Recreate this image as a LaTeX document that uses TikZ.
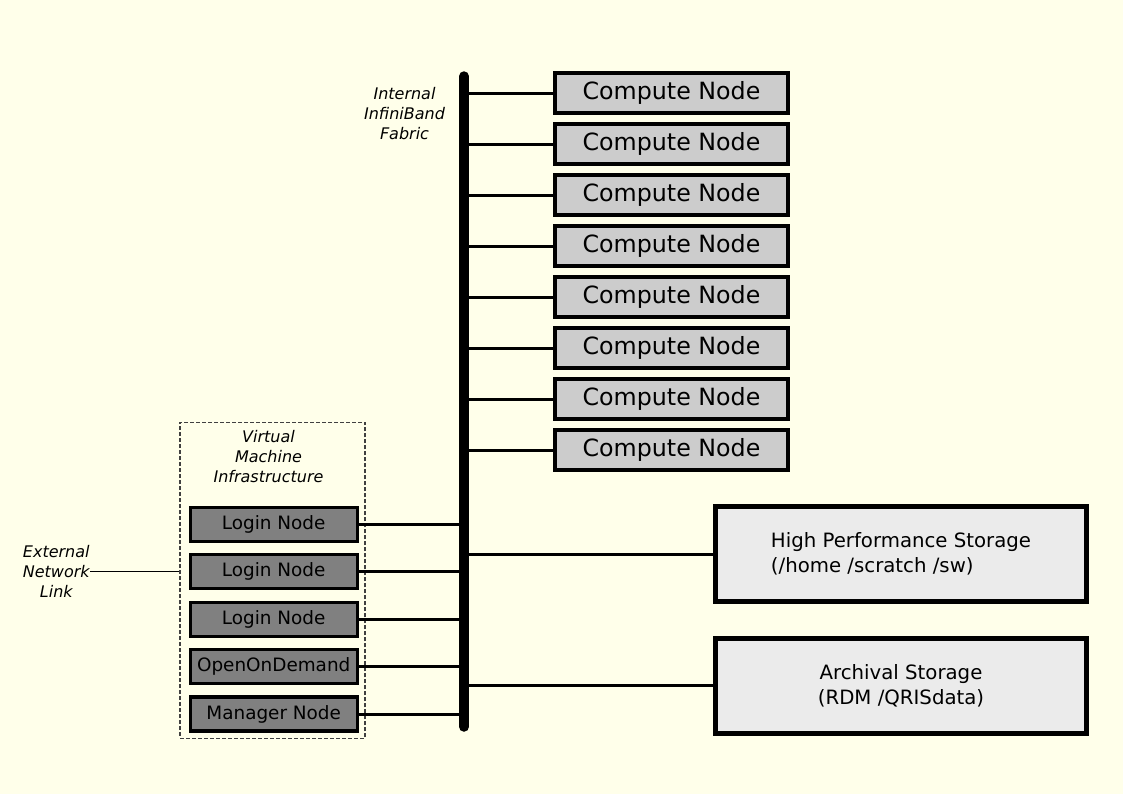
\documentclass[tikz,border=0pt]{standalone}
\usepackage{fontspec}
\setmainfont{DejaVu Sans}
\usetikzlibrary{positioning}
\definecolor{paper}{HTML}{FFFFEA}

\begin{document}
\begin{tikzpicture}[x=0.75pt, y=-0.75pt,
    computenode/.style={rectangle, draw=black, fill=black!20, line width=3pt, minimum width=174.75pt, minimum height=30pt, font=\fontsize{17.8}{21}\selectfont},
    loginnode/.style={rectangle, draw=black, fill=black!50, line width=2.4pt, minimum width=125.25pt, minimum height=25.5pt, font=\fontsize{13.8}{16}\selectfont},
    storagenode/.style={rectangle, draw=black, fill=black!8, line width=3.75pt, minimum width=278.25pt, minimum height=71.25pt, font=\fontsize{14.8}{18.75}\selectfont},
    labelnode/.style={align=center, inner sep=0, font=\itshape\fontsize{12}{15}\selectfont},
    vmbox/.style={rectangle, draw=black!75, line width=1.1pt, dash pattern=on 3pt off 1.5pt},
    link/.style={line width=2.25pt},
    bus/.style={line width=7.5pt, line cap=round},
    ]
    \fill[paper] (0,0) rectangle (1123,794);
    \useasboundingbox (0,0) rectangle (1123,794);
    %Nodes
    \node[vmbox, minimum width=138.75pt, minimum height=237pt] (vm) at (272.7,580.3) {};
    \node[labelnode] (vmlabel) at (268.5,457) {Virtual\\Machine\\Infrastructure};
    \node[labelnode] (iblabel) at (404.5,114) {Internal\\InfiniBand\\Fabric};
    \node[labelnode] (ext) at (56.3,571) {External\\Network\\Link};
    \node[computenode]      (cn1)  at (671.5,93) {Compute Node};
    \node[computenode]      (cn2)  [below=5.25pt of cn1] {Compute Node};
    \node[computenode]      (cn3)  [below=5.25pt of cn2] {Compute Node};
    \node[computenode]      (cn4)  [below=5.25pt of cn3] {Compute Node};
    \node[computenode]      (cn5)  [below=5.25pt of cn4] {Compute Node};
    \node[computenode]      (cn6)  [below=5.25pt of cn5] {Compute Node};
    \node[computenode]      (cn7)  [below=5.25pt of cn6] {Compute Node};
    \node[computenode]      (cn8)  [below=5.25pt of cn7] {Compute Node};
    \node[loginnode]        (login1)  at (273.7,524.2) {Login Node};
    \node[loginnode]        (login2)  [below=7.7pt of login1] {Login Node};
    \node[loginnode]        (login3)  [below=7.7pt of login2] {Login Node};
    \node[loginnode]        (ood)     [below=7.7pt of login3] {OpenOnDemand};
    \node[loginnode]        (manager) [below=7.7pt of ood] {Manager Node};
    \node[storagenode, align=left]   (hps)  at (901,554) {High Performance Storage\\(/home /scratch /sw)};
    \node[storagenode, align=center] (arch) [below=23.65pt of hps] {Archival Storage\\(RDM /QRISdata)};
    \node[inner sep=0, minimum size=0] (bustop) at (464,76) {}; % invisible node
    \node[inner sep=0, minimum size=0] (busbot) at (464,727) {}; % invisible node

    %Lines
    \draw[line width=0.75pt] (ext.east) -- (ext.east -| vm.west);
    \draw[link] (cn1.west -| bustop) -- (cn1.west);
    \draw[link] (cn2.west -| bustop) -- (cn2.west);
    \draw[link] (cn3.west -| bustop) -- (cn3.west);
    \draw[link] (cn4.west -| bustop) -- (cn4.west);
    \draw[link] (cn5.west -| bustop) -- (cn5.west);
    \draw[link] (cn6.west -| bustop) -- (cn6.west);
    \draw[link] (cn7.west -| bustop) -- (cn7.west);
    \draw[link] (cn8.west -| bustop) -- (cn8.west);
    \draw[link] (login1.east) -- (login1.east -| bustop);
    \draw[link] (login2.east) -- (login2.east -| bustop);
    \draw[link] (login3.east) -- (login3.east -| bustop);
    \draw[link] (ood.east) -- (ood.east -| bustop);
    \draw[link] (manager.east) -- (manager.east -| bustop);
    \draw[link] (hps.west -| bustop) -- (hps.west);
    \draw[link] (arch.west -| bustop) -- (arch.west);
    \draw[bus] (bustop) -- (busbot);

\end{tikzpicture}
\end{document}
